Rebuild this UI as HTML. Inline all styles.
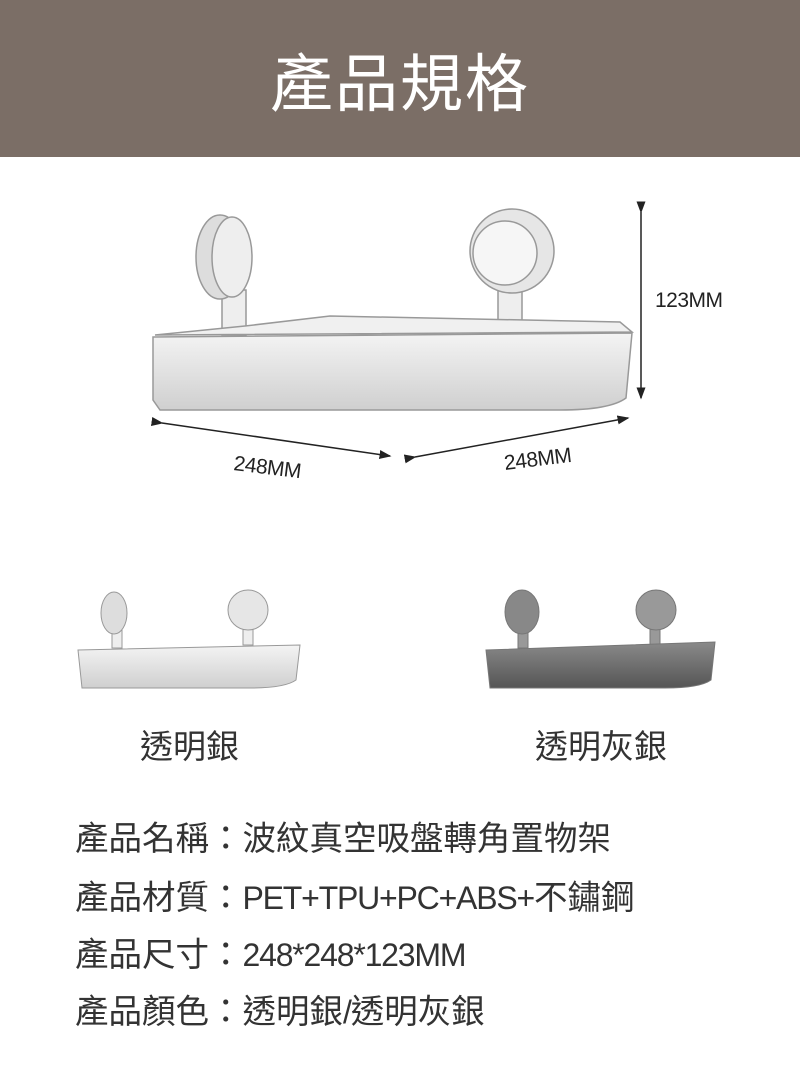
<!DOCTYPE html>
<html><head><meta charset="utf-8"><style>
body{margin:0;width:800px;height:1080px;background:#fff;position:relative;overflow:hidden;font-family:"Liberation Sans","Noto Sans CJK TC",sans-serif}
.hdr{position:absolute;left:0;top:0;width:800px;height:157px;background:#7b6e66}
.hdr div{position:absolute;left:0;width:800px;top:42px;text-align:center;color:#fff;font-size:63px;line-height:86px;letter-spacing:2px}
.t{position:absolute;color:#333;font-size:33px;white-space:nowrap}
.spec{position:absolute;left:75px;font-size:33.5px;color:#333;white-space:nowrap;line-height:40px}
.l{letter-spacing:-1.2px;font-size:32px}
</style></head><body>
<div class="hdr"><div>產品規格</div></div>
<svg width="800" height="1080" style="position:absolute;left:0;top:0">
<defs>
<linearGradient id="g" x1="0" y1="0" x2="0" y2="1"><stop offset="0" stop-color="#f4f4f4"/><stop offset="1" stop-color="#cfcfcf"/></linearGradient>
<linearGradient id="gd" x1="0" y1="0" x2="0" y2="1"><stop offset="0" stop-color="#8a8a8a"/><stop offset="1" stop-color="#555"/></linearGradient>
<marker id="a" markerWidth="8" markerHeight="8" refX="7" refY="4" orient="auto"><path d="M0,1 L8,4 L0,7z" fill="#222"/></marker>
</defs>
<g stroke="#999" stroke-width="1.5">
<rect x="222" y="290" width="24" height="45" fill="#eee"/>
<rect x="498" y="285" width="24" height="45" fill="#eee"/>
<ellipse cx="220" cy="257" rx="24" ry="42" fill="#ddd"/>
<ellipse cx="232" cy="257" rx="20" ry="40" fill="#eee"/>
<circle cx="512" cy="251" r="42" fill="#e6e6e6"/>
<circle cx="505" cy="253" r="32" fill="#f6f6f6"/>
<path d="M245,326 L330,316 L620,322 L632,332 L155,335 Z" fill="#f0f0f0"/>
<path d="M153,337 L632,333 L626,398 Q610,410 560,410 L160,410 L153,400 Z" fill="url(#g)"/>
</g>
<line x1="641" y1="212" x2="641" y2="398" stroke="#222" stroke-width="1.5" marker-end="url(#a)" marker-start="url(#a)"/>
<line x1="162" y1="423" x2="390" y2="456" stroke="#222" stroke-width="1.5" marker-end="url(#a)" marker-start="url(#a)"/>
<line x1="415" y1="457" x2="628" y2="418" stroke="#222" stroke-width="1.5" marker-end="url(#a)" marker-start="url(#a)"/>
<text x="233" y="470" font-size="21" fill="#222" transform="rotate(7 233 470)" font-family="Liberation Sans" letter-spacing="-0.5">248MM</text>
<text x="505" y="470" font-size="21" fill="#222" transform="rotate(-7 505 470)" font-family="Liberation Sans" letter-spacing="-0.5">248MM</text>
<text x="655" y="307" font-size="21" fill="#222" font-family="Liberation Sans" letter-spacing="-0.5">123MM</text>
<g stroke="#999" stroke-width="1">
<rect x="112" y="618" width="10" height="30" fill="#eee"/>
<rect x="243" y="615" width="10" height="30" fill="#eee"/>
<ellipse cx="114" cy="613" rx="13" ry="21" fill="#ddd"/>
<circle cx="248" cy="610" r="20" fill="#e6e6e6"/>
<path d="M78,650 L300,645 L296,680 Q285,688 250,688 L82,688 Z" fill="url(#g)"/>
</g>
<g stroke="#777" stroke-width="1">
<rect x="518" y="618" width="10" height="30" fill="#999"/>
<rect x="650" y="615" width="10" height="30" fill="#999"/>
<ellipse cx="522" cy="612" rx="17" ry="22" fill="#888"/>
<circle cx="656" cy="610" r="20" fill="#999"/>
<path d="M486,650 L715,642 L711,680 Q700,688 665,688 L490,688 Z" fill="url(#gd)"/>
</g>
</svg>
<div class="t" style="left:140px;top:720px">透明銀</div>
<div class="t" style="left:535px;top:720px">透明灰銀</div>
<div class="spec" style="top:820px">產品名稱：波紋真空吸盤轉角置物架</div>
<div class="spec" style="top:878px">產品材質：<span class="l">PET+TPU+PC+ABS+</span>不鏽鋼</div>
<div class="spec" style="top:935px">產品尺寸：<span class="l">248*248*123MM</span></div>
<div class="spec" style="top:992px">產品顏色：透明銀<span class="l">/</span>透明灰銀</div>
</body></html>
